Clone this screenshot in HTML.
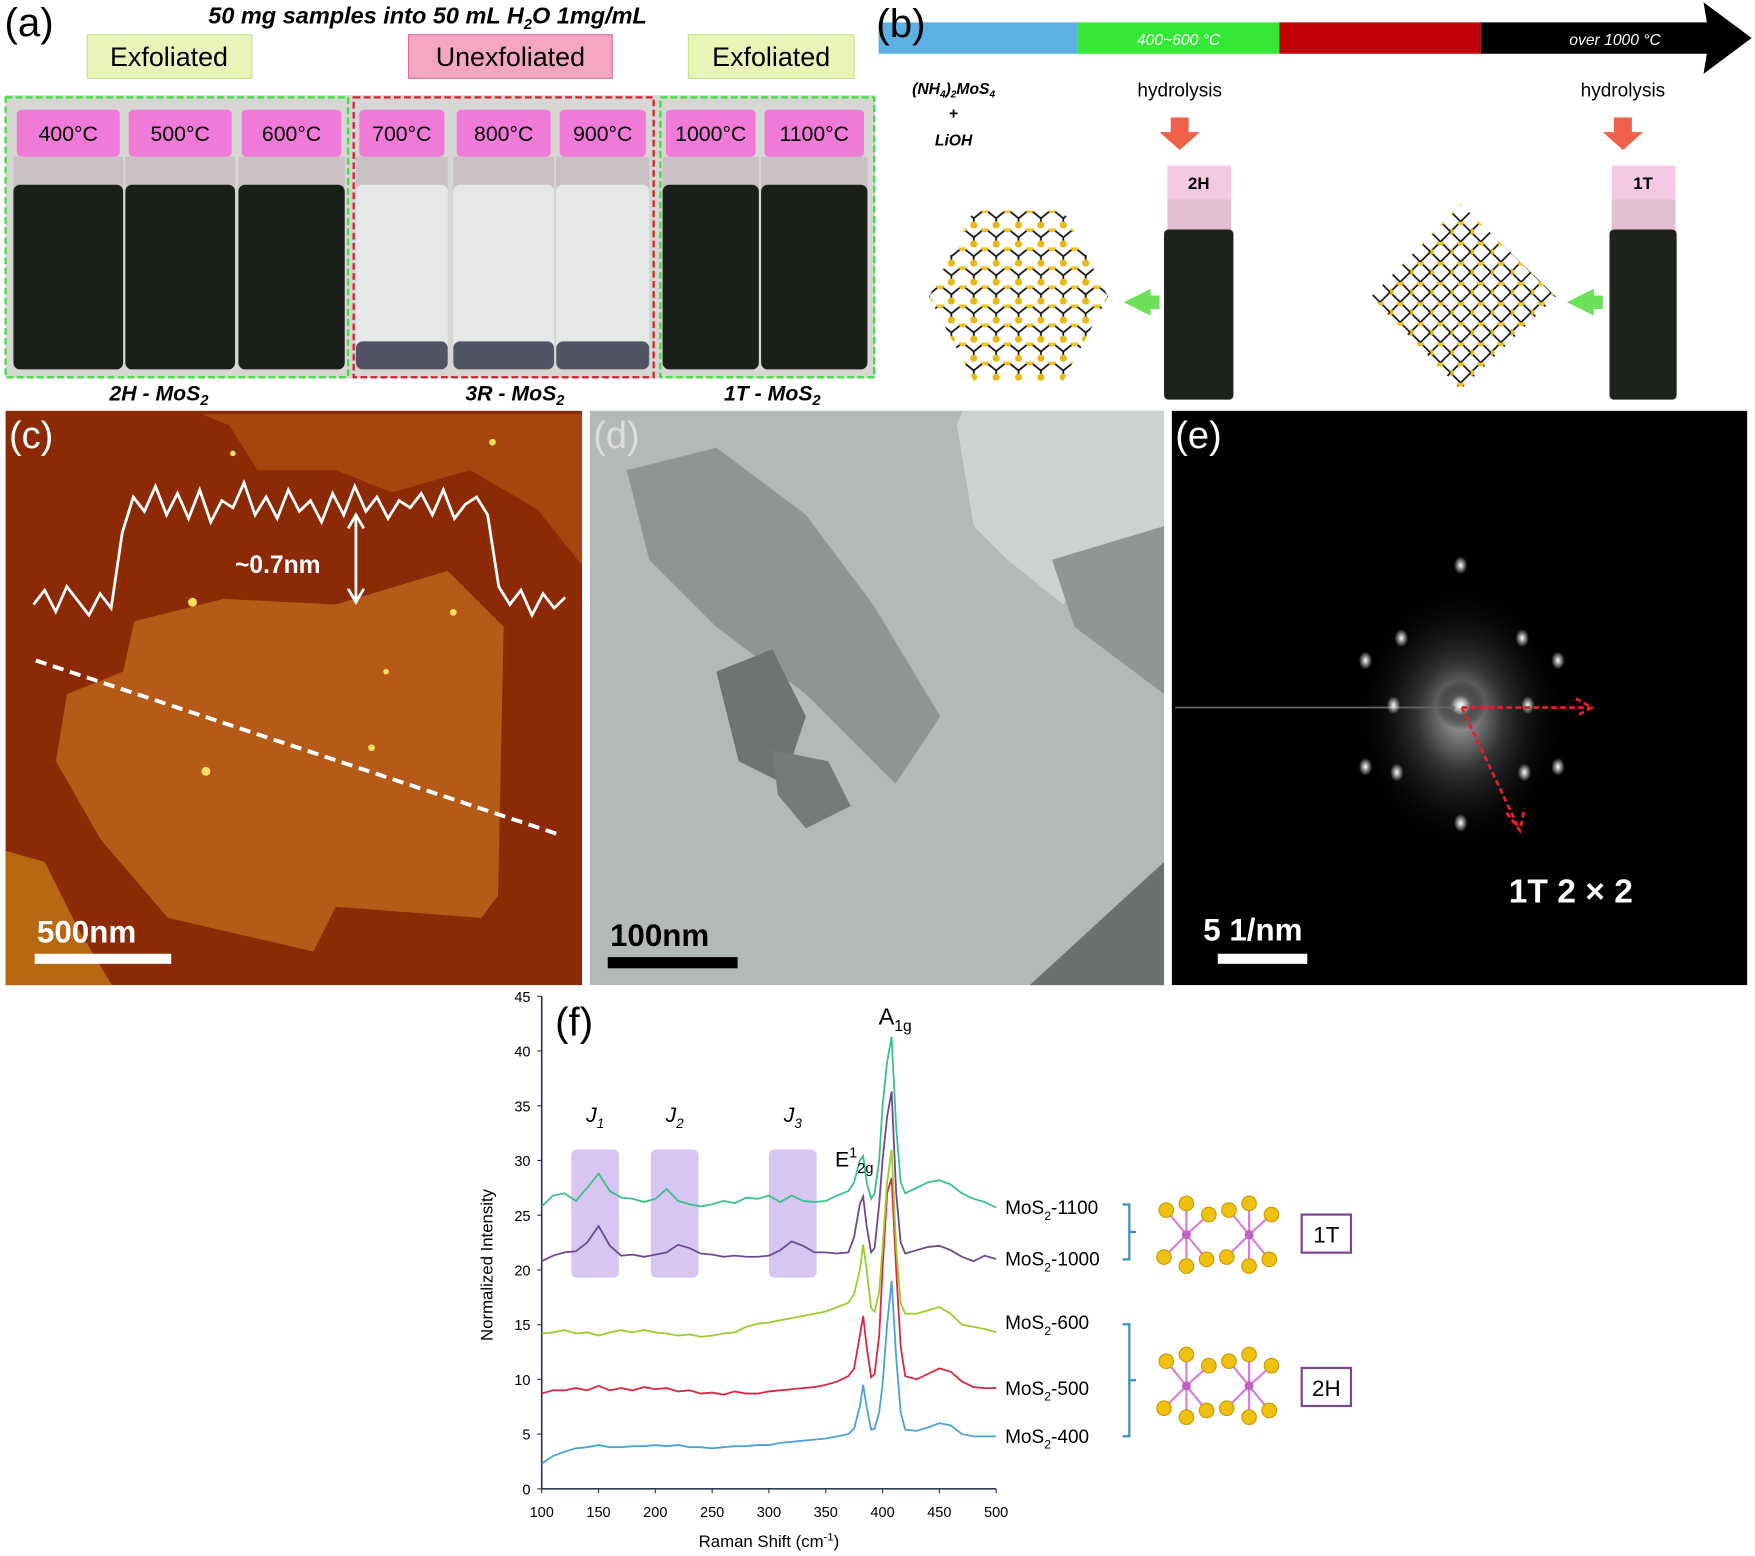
<!DOCTYPE html>
<html><head><meta charset="utf-8"><style>
html,body{margin:0;padding:0;background:#fff;width:1755px;height:1556px;overflow:hidden}
svg{display:block}
text{font-family:"Liberation Sans",sans-serif}
.cond{font-family:"Liberation Sans Narrow","Liberation Sans",sans-serif}
</style></head><body>
<svg id="fig" width="1755" height="1556" viewBox="0 0 1568 1390" preserveAspectRatio="none" xmlns="http://www.w3.org/2000/svg">
<defs>
<radialGradient id="glow" cx="0.5" cy="0.5" r="0.5"><stop offset="0" stop-color="#fff"/><stop offset="0.12" stop-color="#ddd"/><stop offset="0.4" stop-color="#555"/><stop offset="1" stop-color="#000" stop-opacity="0"/></radialGradient>
<radialGradient id="dot" cx="0.5" cy="0.5" r="0.5"><stop offset="0" stop-color="#fff"/><stop offset="1" stop-color="#fff" stop-opacity="0"/></radialGradient>
<pattern id="hexlat" width="20" height="17" patternUnits="userSpaceOnUse"><path d="M0 0 L10 8 L20 0 M10 8 L10 17" stroke="#111" stroke-width="1.6" fill="none"/><circle cx="0" cy="0" r="3.6" fill="#f0c419"/><circle cx="20" cy="0" r="3.6" fill="#f0c419"/><circle cx="10" cy="14" r="3.2" fill="#e8b810"/></pattern>
<pattern id="rholat" width="18" height="18" patternUnits="userSpaceOnUse"><path d="M0 9 L9 0 L18 9 L9 18 Z" stroke="#111" stroke-width="1.5" fill="none"/><circle cx="9" cy="0" r="3.4" fill="#f0c419"/><circle cx="0" cy="9" r="3" fill="#e8b810"/></pattern>
</defs>

<!-- Panel (a) -->
<g>
<text x="4" y="32" font-size="36">(a)</text>
<text x="382" y="21" font-size="21" font-weight="bold" font-style="italic" text-anchor="middle">50 mg samples into 50 mL H<tspan font-size="13" dy="5">2</tspan><tspan dy="-5">O  1mg/mL</tspan></text>
<rect x="78" y="31" width="147" height="39" fill="#e9f5b8" stroke="#c8e08c"/>
<text x="151" y="59" font-size="24" text-anchor="middle">Exfoliated</text>
<rect x="365" y="31" width="182" height="39" fill="#f6a6c0" stroke="#e0708c"/>
<text x="456" y="59" font-size="24" text-anchor="middle">Unexfoliated</text>
<rect x="615" y="31" width="148" height="39" fill="#e9f5b8" stroke="#c8e08c"/>
<text x="689" y="59" font-size="24" text-anchor="middle">Exfoliated</text>
<rect x="5" y="85" width="777" height="253" fill="#d6d6d2"/>
<g id="bottles"></g>
<rect x="5" y="87" width="306" height="250" fill="none" stroke="#3de03a" stroke-width="2" stroke-dasharray="6,3"/>
<rect x="316" y="87" width="268" height="250" fill="none" stroke="#d02030" stroke-width="2" stroke-dasharray="6,3"/>
<rect x="590" y="87" width="191" height="250" fill="none" stroke="#3de03a" stroke-width="2" stroke-dasharray="6,3"/>
<text x="142" y="358" font-size="19" font-weight="bold" font-style="italic" text-anchor="middle">2H - MoS<tspan font-size="13" dy="4">2</tspan></text>
<text x="460" y="358" font-size="19" font-weight="bold" font-style="italic" text-anchor="middle">3R - MoS<tspan font-size="13" dy="4">2</tspan></text>
<text x="690" y="358" font-size="19" font-weight="bold" font-style="italic" text-anchor="middle">1T - MoS<tspan font-size="13" dy="4">2</tspan></text>
</g>

<!-- Panel (b) -->
<g>
<rect x="785" y="20" width="178" height="28" fill="#5cb0e4"/>
<rect x="963" y="20" width="180" height="28" fill="#36e836"/>
<rect x="1143" y="20" width="180" height="28" fill="#c0000a"/>
<path d="M1323 20 H1525 L1522 2 L1565 34 L1522 66 L1525 48 H1323 Z" fill="#000"/>
<text x="1053" y="40" font-size="14" fill="#fff" font-style="italic" text-anchor="middle" class="cond">400~600 °C</text>
<text x="1443" y="40" font-size="14" fill="#fff" font-style="italic" text-anchor="middle" class="cond">over 1000 °C</text>
<text x="783" y="33" font-size="36">(b)</text>
<text x="852" y="84" font-size="14" font-style="italic" font-weight="bold" text-anchor="middle">(NH<tspan font-size="9" dy="3">4</tspan><tspan dy="-3">)</tspan><tspan font-size="9" dy="3">2</tspan><tspan dy="-3">MoS</tspan><tspan font-size="9" dy="3">4</tspan></text>
<text x="852" y="106" font-size="14" font-weight="bold" text-anchor="middle">+</text>
<text x="852" y="130" font-size="14" font-style="italic" font-weight="bold" text-anchor="middle">LiOH</text>
<text x="1054" y="86" font-size="17" text-anchor="middle" class="cond">hydrolysis</text>
<text x="1450" y="86" font-size="17" text-anchor="middle" class="cond">hydrolysis</text>
<path d="M1046 105 H1062 V118 H1072 L1054 134 L1036 118 H1046 Z" fill="#f0604a"/>
<path d="M1442 105 H1458 V118 H1468 L1450 134 L1432 118 H1442 Z" fill="#f0604a"/>
<g>
<rect x="1043" y="148" width="57" height="30" fill="#f5c8e6"/><text x="1071" y="169" font-size="15" font-weight="bold" text-anchor="middle">2H</text>
<rect x="1043" y="178" width="57" height="30" fill="#e0c0d0"/><rect x="1040" y="205" width="62" height="152" rx="4" fill="#1d221c"/></g>
<g>
<rect x="1440" y="148" width="57" height="30" fill="#f5c8e6"/><text x="1468" y="169" font-size="15" font-weight="bold" text-anchor="middle">1T</text>
<rect x="1440" y="178" width="57" height="30" fill="#e0c0d0"/><rect x="1438" y="205" width="60" height="152" rx="4" fill="#1d221c"/></g>
<polygon points="870,188 950,188 990,265 950,340 870,340 830,265" fill="url(#hexlat)"/>
<polygon points="1305,182 1390,265 1305,348 1225,265" fill="url(#rholat)"/>
<path d="M1028 258 V282 L1004 270 Z M1028 264 H1036 V276 H1028" fill="#6de05a"/>
<path d="M1424 258 V282 L1400 270 Z M1424 264 H1432 V276 H1424" fill="#6de05a"/>
</g>

<!-- Panel (c) AFM -->
<g>
<rect x="5" y="367" width="515" height="513" fill="#8c2a06"/>
<path d="M180 370 H520 V505 L480 455 L420 420 L350 440 L300 420 L230 420 L205 380 Z" fill="#a8440e"/>
<path d="M120 555 L200 535 L300 540 L400 510 L450 560 L445 800 L430 820 L300 810 L280 850 L150 820 L90 750 L50 680 L60 620 L110 600 Z" fill="#b65a18"/>
<path d="M5 760 L40 770 L70 830 L100 880 H5 Z" fill="#b86810"/>
<g fill="#ffe060"><circle cx="172" cy="538" r="4"/><circle cx="405" cy="547" r="3"/><circle cx="184" cy="689" r="4"/><circle cx="332" cy="668" r="3"/><circle cx="440" cy="395" r="3"/><circle cx="208" cy="405" r="2.5"/><circle cx="345" cy="600" r="2.5"/></g>
<path id="afmprof" fill="none" stroke="#fff" stroke-width="2.5"/>
<path d="M318 462 V536 M311 472 L318 460 L325 472 M311 526 L318 538 L325 526" stroke="#fff" stroke-width="2.5" fill="none"/>
<text x="210" y="512" font-size="22" font-weight="bold" fill="#fff">~0.7nm</text>
<line x1="32" y1="590" x2="498" y2="745" stroke="#fff" stroke-width="3.5" stroke-dasharray="10,6"/>
<text x="8" y="400" font-size="34" fill="#fff">(c)</text>
<text x="33" y="842" font-size="28" font-weight="bold" fill="#fff">500nm</text>
<rect x="31" y="852" width="122" height="9" fill="#fff"/>
</g>

<!-- Panel (d) TEM -->
<g>
<rect x="527" y="367" width="513" height="513" fill="#b4b8b6"/>
<path d="M860 367 H1040 V490 L980 500 L950 540 L900 500 L870 470 L855 380 Z" fill="#cdd1cf"/>
<path d="M560 420 L640 400 L720 460 L780 540 L840 640 L800 700 L720 620 L640 560 L580 500 Z" fill="#8e9594"/>
<path d="M640 600 L690 580 L720 640 L700 700 L660 680 Z" fill="#6d7473"/>
<path d="M690 670 L740 680 L760 720 L720 740 L695 710 Z" fill="#747b7a"/>
<path d="M940 500 L1040 470 V620 L960 560 Z" fill="#8f9695"/>
<path d="M920 880 L1040 770 V880 Z" fill="#6b7170"/>
<text x="530" y="400" font-size="34" fill="#ddd">(d)</text>
<text x="545" y="845" font-size="28" font-weight="bold" fill="#000">100nm</text>
<rect x="543" y="855" width="116" height="10" fill="#000"/>
</g>

<!-- Panel (e) SAED -->
<g>
<rect x="1047" y="367" width="514" height="513" fill="#000"/>
<ellipse cx="1305" cy="640" rx="95" ry="120" fill="url(#glow)" opacity="0.6"/>
<circle cx="1305" cy="630" r="22" fill="url(#glow)"/>
<line x1="1050" y1="632" x2="1300" y2="632" stroke="#666" stroke-width="1.5"/>
<g id="spots"></g>
<path d="M1306 632 H1420 M1408 624 L1422 632 L1408 640 M1306 632 L1356 738 M1346 726 L1358 742 L1362 722" stroke="#e0202a" stroke-width="2.5" stroke-dasharray="5,3" fill="none"/>
<text x="1050" y="400" font-size="34" fill="#fff">(e)</text>
<text x="1348" y="806" font-size="30" font-weight="bold" fill="#fff">1T 2 × 2</text>
<text x="1075" y="840" font-size="28" font-weight="bold" fill="#fff">5 1/nm</text>
<rect x="1088" y="852" width="80" height="9" fill="#fff"/>
</g>

<!-- Panel (f) Raman chart -->
<g id="chart"></g>
<text x="496" y="925" font-size="36">(f)</text>
</svg>
<script>
const NS='http://www.w3.org/2000/svg';
function mk(parent,tag,attrs,txt){const e=document.createElementNS(NS,tag);for(const k in attrs)e.setAttribute(k,attrs[k]);if(txt!==undefined)e.textContent=txt;parent.appendChild(e);return e;}

// ---- bottles (photo decoration) ----
const bottleLabels=['400°C','500°C','600°C','700°C','800°C','900°C','1000°C','1100°C'];
const bottleX=[12,112,213,318,405,497,592,680];
const bottleW=[98,98,95,82,90,83,86,95];
const bottleDark=[1,1,1,0,0,0,1,1];
const bg=document.getElementById('bottles');
bottleLabels.forEach((lb,i)=>{
  const g=mk(bg,'g',{});
  
  
  const x=bottleX[i],w=bottleW[i];
  mk(g,'rect',{x:x,y:140,width:w,height:30,fill:'#c9c0c4'});
  mk(g,'rect',{x:x,y:165,width:w,height:165,rx:6,fill:bottleDark[i]?'#1b1f19':'#e6e8e8'});
  if(!bottleDark[i]) mk(g,'rect',{x:x,y:305,width:w,height:25,rx:6,fill:'#505464'});
  mk(g,'rect',{x:x+3,y:98,width:w-6,height:42,rx:4,fill:'#f07ad8'});
  mk(g,'text',{x:x+w/2,y:126,'font-size':19,'text-anchor':'middle'},lb);
});

// ---- SAED spots ----
const spotX=[1305,1252,1360,1220,1392,1248,1362,1220,1392,1305,1245,1365];
const spotY=[505,570,570,590,590,690,690,685,685,735,630,630];
const sg=document.getElementById('spots');
spotX.forEach((x,i)=>{const c=mk(sg,'ellipse',{cx:x,cy:spotY[i],rx:6,ry:8,fill:'url(#dot)'});

});

// ---- AFM profile ----
const profY=[0,8,-4,10,2,-6,6,-2,40,60,52,66,50,62,48,64,46,58,54,68,50,60,48,64,52,58,46,62,50,66,52,60,48,58,54,62,50,64,48,56,60,50,10,0,8,-6,6,-2,4];
(function(){let d='';const n=profY.length;profY.forEach((v,i)=>{const x=30+i*(475/(n-1));const y=540-v*1.6;d+=(i?'L':'M')+x.toFixed(1)+' '+y.toFixed(1);});document.getElementById('afmprof').setAttribute('d',d);})();

// ---- Raman data ----
const ramanShift=[100,110,120,130,140,150,160,170,180,190,200,210,220,230,240,250,260,270,280,290,300,310,320,330,340,350,360,370,375,380,383,386,390,393,397,400,404,408,412,416,420,430,440,450,460,470,480,490,500];
const mos2_400=[2.3,3.0,3.4,3.7,3.8,4.0,3.8,3.8,3.9,3.9,4.0,3.9,4.0,3.8,3.8,3.7,3.8,3.9,3.9,4.0,4.0,4.2,4.3,4.4,4.5,4.6,4.8,5.0,5.5,7.5,9.5,7.5,5.4,5.5,7.0,9.5,15,19,12,7,5.4,5.3,5.6,6.0,5.8,5.0,4.8,4.8,4.8];
const mos2_500=[8.7,9.0,9.0,9.2,9.0,9.4,9.0,9.2,9.0,9.3,9.1,9.2,8.9,9.0,8.7,8.8,8.6,8.9,8.7,8.7,8.9,9.0,9.1,9.2,9.3,9.5,9.8,10.3,11,14,15.8,13,10.2,10.5,14,20,27,28.4,20,13,10.3,10,10.5,11,10.7,9.8,9.3,9.2,9.2];
const mos2_600=[14.2,14.3,14.5,14.2,14.3,14.0,14.3,14.5,14.3,14.5,14.3,14.2,14.0,14.1,13.9,14.0,14.2,14.3,14.8,15.1,15.2,15.4,15.6,15.8,16.0,16.2,16.6,17.0,17.8,20,22.3,20,16.5,16.2,18,22,28,31,22,17,16,16,16.3,16.6,16,15,14.8,14.6,14.3];
const mos2_1000=[20.8,21.3,21.6,21.7,22.5,24.0,22.2,21.3,21.4,21.2,21.4,21.6,22.3,22.0,21.5,21.4,21.2,21.3,21.2,21.2,21.3,21.8,22.6,22.2,21.6,21.6,21.5,21.6,23,26,26.7,24,21.6,22,26,30,34,36.3,27,22.5,21.5,21.8,22.1,22.2,21.8,21.2,20.8,21.3,21.0];
const mos2_1100=[25.8,26.8,27.0,26.3,27.5,28.8,27.2,26.6,26.5,26.2,26.5,27.4,26.3,26.0,25.8,26.0,26.3,26.1,26.6,26.5,26.8,26.2,26.8,26.3,26.2,26.3,26.8,27.2,28,30,30.4,28,26.5,27,30,35,39,41.3,33,28,27,27.5,28,28.2,27.8,27,26.5,26.2,25.7];
const seriesNames=['MoS2-400','MoS2-500','MoS2-600','MoS2-1000','MoS2-1100'];
const seriesLabelY=[4.8,9.2,15.2,21.0,25.7];
const xTicks=[100,150,200,250,300,350,400,450,500];
const yTicks=[0,5,10,15,20,25,30,35,40,45];
const bandStart=[126,196,300];
const bandEnd=[168,238,342];
const bandNames=['1','2','3'];

const X0=484,X1=890,Y0=1330,Y1=890;
const sx=v=>X0+(v-100)/400*(X1-X0);
const sy=v=>Y0-v/45*(Y0-Y1);
const ch=document.getElementById('chart');
const colors=['#4aa3d6','#d42a44','#9ccc2e','#6b4a90','#3cc08a'];

// bands
bandStart.forEach((b,i)=>{
  const r=mk(ch,'rect',{x:sx(b),y:sy(31),width:sx(bandEnd[i])-sx(b),height:sy(19.3)-sy(31),rx:5,fill:'#c9b3ec',opacity:0.75});
  
  
  const t=mk(ch,'text',{x:(sx(b)+sx(bandEnd[i]))/2,y:sy(33.5),'font-size':19,'font-style':'italic','text-anchor':'middle'});
  
  
  t.innerHTML='J<tspan font-size="12" dy="5">'+bandNames[i]+'</tspan>';
});
// axes
const ax=mk(ch,'path',{d:`M${X0} ${Y1} V${Y0} H${X1}`,stroke:'#2a3a5a','stroke-width':1.5,fill:'none'});


yTicks.forEach(v=>{
  mk(ch,'line',{x1:X0-4,x2:X0,y1:sy(v),y2:sy(v),stroke:'#333'});
  const t=mk(ch,'text',{x:X0-10,y:sy(v)+5,'font-size':13,'text-anchor':'end'},v);
  
  
});
xTicks.forEach(v=>{
  mk(ch,'line',{x1:sx(v),x2:sx(v),y1:Y0,y2:Y0+4,stroke:'#333'});
  const t=mk(ch,'text',{x:sx(v),y:Y0+25,'font-size':13,'text-anchor':'middle'},v);
  
  
});
const xt=mk(ch,'text',{x:(X0+X1)/2,y:1382,'font-size':15,'text-anchor':'middle',class:'cond'});


xt.innerHTML='Raman Shift (cm<tspan font-size="10" dy="-6">-1</tspan><tspan dy="6">)</tspan>';
const yt=mk(ch,'text',{x:0,y:0,'font-size':15,'text-anchor':'middle',transform:`translate(440 ${(Y0+Y1)/2+20}) rotate(-90)`},'Normalized Intensity');


// series
[mos2_400,mos2_500,mos2_600,mos2_1000,mos2_1100].forEach((arr,i)=>{
  const d=arr.map((v,j)=>(j?'L':'M')+sx(ramanShift[j]).toFixed(1)+' '+sy(v).toFixed(1)).join('');
  const p=mk(ch,'path',{d:d,stroke:colors[i],'stroke-width':1.6,fill:'none'});
  
  
  const t=mk(ch,'text',{x:898,y:sy(seriesLabelY[i])+6,'font-size':17,class:'cond'});
  
  
  t.innerHTML='MoS<tspan font-size="11" dy="5">2</tspan><tspan dy="-5">-'+seriesNames[i].split('-')[1]+'</tspan>';
});
// peak labels
const a1=mk(ch,'text',{x:785,y:915,'font-size':21});


a1.innerHTML='A<tspan font-size="14" dy="6">1g</tspan>';
const e2=mk(ch,'text',{x:746,y:1042,'font-size':19});


e2.innerHTML='E<tspan font-size="13" dy="-8">1</tspan><tspan font-size="13" dy="14">2g</tspan>';
// brackets and structure icons
function bracket(y1,y2,name){const p=mk(ch,'path',{d:`M1003 ${y1} H1009 V${y2} H1003 M1009 ${(y1+y2)/2} H1015`,stroke:'#3a8fc0','stroke-width':2,fill:'none'});

}
bracket(1076,1125,'bracket-1t');bracket(1183,1283,'bracket-2h');
function struct(cx,cy,name){const g=mk(ch,'g',{});


[[-28,0],[28,0]].forEach(([dx])=>{const mx=cx+dx,my=cy;
 [[-18,-22],[0,-28],[20,-18],[-20,20],[0,28],[18,22]].forEach(([a,b])=>{mk(g,'line',{x1:mx,y1:my,x2:mx+a,y2:my+b,stroke:'#d880d8','stroke-width':2});mk(g,'circle',{cx:mx+a,cy:my+b,r:6.5,fill:'#f0c010',stroke:'#c89a00'});});
 mk(g,'circle',{cx:mx,cy:my,r:4,fill:'#c060c0'});});}
struct(1088,1103,'structure-1t');struct(1088,1238,'structure-2h');
function box(y,txt,name){const r=mk(ch,'rect',{x:1163,y:y,width:44,height:34,fill:'#fff',stroke:'#7a4a90','stroke-width':2});


mk(ch,'text',{x:1185,y:y+25,'font-size':20,'text-anchor':'middle',class:'cond'},txt);}
box(1085,'1T','phase-box-1t');box(1222,'2H','phase-box-2h');
</script>
</body></html>
